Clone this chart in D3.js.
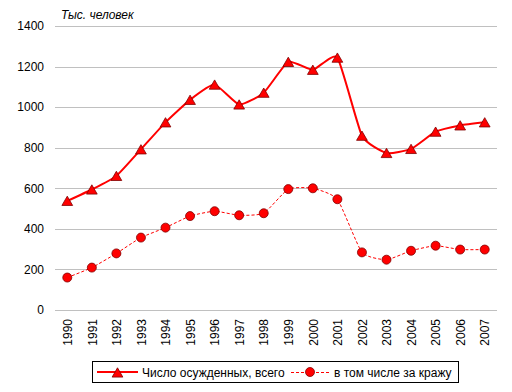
<!DOCTYPE html>
<html>
<head>
<meta charset="utf-8">
<script src="https://cdn.jsdelivr.net/npm/d3@7"></script>
<style>
  body { margin: 0; background: #fff; }
  text { font-family: "Liberation Sans", Arial, sans-serif; }
</style>
</head>
<body>
<div class="chart"></div>
<script>
// годы
var years = ["1990","1991","1992","1993","1994","1995","1996","1997","1998",
             "1999","2000","2001","2002","2003","2004","2005","2006","2007"];
// число осужденных, всего (тыс.)
var totalVals = [538, 594, 661, 792, 925, 1036, 1111, 1013, 1071,
                 1223, 1184, 1244, 859, 774, 794, 879, 910, 925];
// в том числе за кражу (тыс.)
var theftVals = [160, 209, 279, 357, 406, 463, 487, 467, 477,
                 596, 600, 546, 284, 248, 292, 317, 298, 298];
var yTicks = [0, 200, 400, 600, 800, 1000, 1200, 1400];
var legendNames = ["Число осужденных, всего", "в том числе за кражу"];

var W = 512, H = 392;
var plotL = 55, plotR = 497, plotT = 26, plotB = 310;

var svg = d3.select(".chart").append("svg")
  .attr("width", W)
  .attr("height", H);

var x = d3.scalePoint().domain(years).range([plotL, plotR]).padding(0.5);
var y = d3.scaleLinear().domain([0, 1400]).range([plotB, plotT]);

// сетка
svg.append("g")
  .selectAll("line")
  .data(yTicks)
  .join("line")
  .attr("x1", plotL)
  .attr("x2", plotR)
  .attr("y1", function(d){ return Math.round(y(d)) + 0.5; })
  .attr("y2", function(d){ return Math.round(y(d)) + 0.5; })
  .attr("stroke", "#c0c0c0")
  .attr("stroke-width", 1);

// ось Y
var yAxis = svg.append("g")
  .attr("transform", "translate(" + plotL + ",0)")
  .call(d3.axisLeft(y).tickValues(yTicks).tickSize(0).tickPadding(11).tickFormat(d3.format("d")));
yAxis.select(".domain").remove();
yAxis.selectAll("text").attr("font-size", "12px").attr("fill", "#000")
  .style("font-family", "'Liberation Sans', Arial, sans-serif");

// ось X
var xAxis = svg.append("g")
  .attr("transform", "translate(0," + plotB + ")")
  .call(d3.axisBottom(x).tickSize(0));
xAxis.select(".domain").remove();
xAxis.selectAll("text")
  .attr("font-size", "12px")
  .attr("fill", "#000")
  .style("font-family", "'Liberation Sans', Arial, sans-serif")
  .attr("transform", "rotate(-90)")
  .attr("text-anchor", "end")
  .attr("x", -9)
  .attr("y", 0)
  .attr("dy", "0.35em");

// подпись единиц
svg.append("text")
  .attr("x", 61)
  .attr("y", 19)
  .attr("font-size", "12px")
  .attr("font-style", "italic")
  .text("Тыс. человек");

var curve = d3.curveCardinal.tension(0.5);

var line = d3.line()
  .x(function(d, i){ return x(years[i]); })
  .y(function(d){ return y(d); })
  .curve(curve);

// кражи
svg.append("path")
  .attr("d", line(theftVals))
  .attr("fill", "none")
  .attr("stroke", "#ff0000")
  .attr("stroke-width", 1)
  .attr("stroke-dasharray", "3,2");

svg.append("g")
  .selectAll("circle")
  .data(theftVals)
  .join("circle")
  .attr("cx", function(d, i){ return x(years[i]); })
  .attr("cy", function(d){ return y(d); })
  .attr("r", 4.5)
  .attr("fill", "#ff0000")
  .attr("stroke", "#800000")
  .attr("stroke-width", 0.8);

// всего
svg.append("path")
  .attr("d", line(totalVals))
  .attr("fill", "none")
  .attr("stroke", "#ff0000")
  .attr("stroke-width", 2);

var tri = d3.symbol().type(d3.symbolTriangle).size(50);

// треугольник центрируем по рамке, а не по центроиду
svg.append("g")
  .selectAll("path")
  .data(totalVals)
  .join("path")
  .attr("d", tri)
  .attr("transform", function(d, i){ return "translate(" + x(years[i]) + "," + (y(d) + 1.5) + ")"; })
  .attr("fill", "#ff0000")
  .attr("stroke", "#800000")
  .attr("stroke-width", 0.8);

// легенда
var lg = svg.append("g");
lg.append("rect")
  .attr("x", 92.5)
  .attr("y", 361.5)
  .attr("width", 366)
  .attr("height", 21)
  .attr("fill", "#fff")
  .attr("stroke", "#000")
  .attr("stroke-width", 1);

lg.append("line")
  .attr("x1", 97).attr("x2", 138)
  .attr("y1", 372).attr("y2", 372)
  .attr("stroke", "#ff0000").attr("stroke-width", 2);
lg.append("path")
  .attr("d", tri)
  .attr("transform", "translate(117.5,374)")
  .attr("fill", "#ff0000")
  .attr("stroke", "#800000")
  .attr("stroke-width", 0.8);
lg.append("text")
  .attr("x", 142).attr("y", 376.5)
  .attr("font-size", "12px")
  .text(legendNames[0]);

lg.append("line")
  .attr("x1", 291).attr("x2", 329)
  .attr("y1", 372.5).attr("y2", 372.5)
  .attr("stroke", "#ff0000").attr("stroke-width", 1)
  .attr("stroke-dasharray", "3,2");
lg.append("circle")
  .attr("cx", 310).attr("cy", 372)
  .attr("r", 4.5)
  .attr("fill", "#ff0000")
  .attr("stroke", "#800000")
  .attr("stroke-width", 0.8);
lg.append("text")
  .attr("x", 334).attr("y", 376.5)
  .attr("font-size", "12px")
  .text(legendNames[1]);
</script>
</body>
</html>
